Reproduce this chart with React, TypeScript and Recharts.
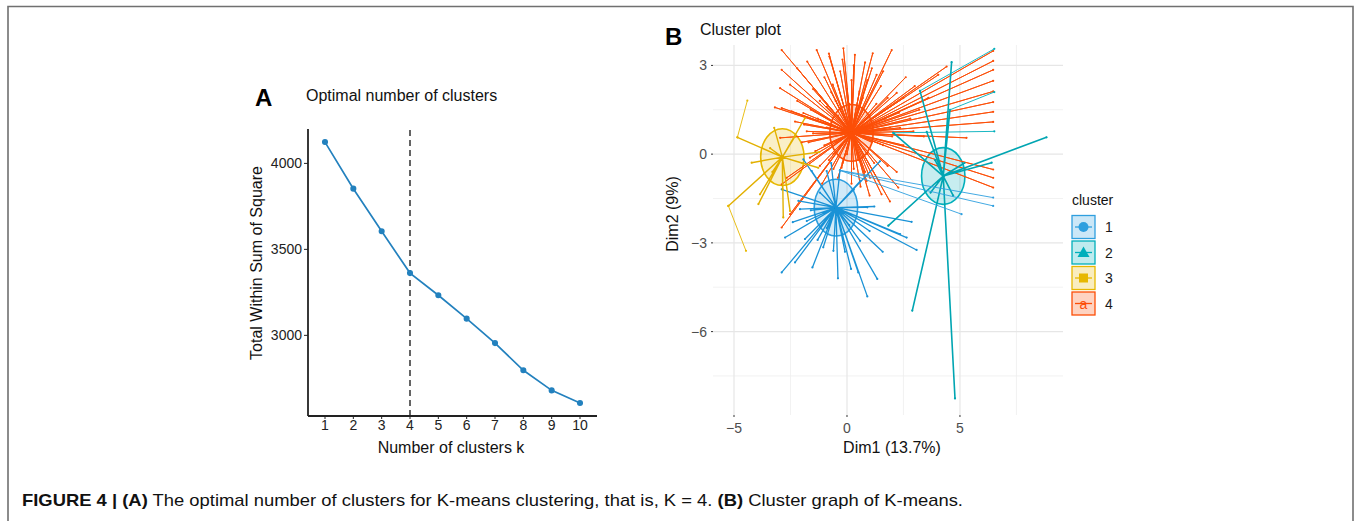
import { LineChart, Line, XAxis, YAxis, ReferenceLine, ScatterChart, Scatter } from 'recharts'

// ── Panel A: elbow curve ─────────────────────────────────────────────────────
const K_VALUES = [1, 2, 3, 4, 5, 6, 7, 8, 9, 10]
const WSS = [4124, 3853, 3605, 3362, 3233, 3097, 2955, 2797, 2680, 2607]
const OPTIMAL_K = 4
const WSS_TICKS = [3000, 3500, 4000]

// ── Panel B: cluster plot (Dim1 / Dim2) ──────────────────────────────────────
const CLUSTER_LABELS = ['1', '2', '3', '4']
const DIM1_TICKS = [-5, 0, 5]
const DIM2_TICKS = [-6, -3, 0, 3]
const DIM1_MINOR = [-2.5, 2.5, 7.5]
const DIM2_MINOR = [1.5, -1.5, -4.5, -7.5]

const CENTERS: [number, number][] = [
  [-0.49, -1.81], // 1
  [4.26, -0.74],  // 2
  [-2.86, -0.10], // 3
  [0.2, 0.72],    // 4
]
const ELLIPSE_R = 0.96

const POINTS_1: [number, number][] = [
  [0.90, -4.81], [1.34, -4.22], [1.58, -3.30], [0.18, -3.88], [-0.09, -3.30], [-0.60, -3.27],
  [-1.53, -3.83], [-1.86, -2.87], [-2.30, -3.66], [-2.89, -4.00], [-2.74, -2.82], [-2.89, -1.19],
  [-2.15, -1.58], [-1.93, -0.18], [-1.56, -0.57], [-0.90, -0.57], [-0.31, -0.55], [1.46, -0.24],
  [1.21, -1.77], [2.64, -2.82], [3.08, -3.24], [2.86, -2.29], [-2.08, -1.86], [-1.78, -2.26],
  [-1.05, -3.15], [0.58, -2.93], [2.35, -2.70], [0.30, -1.20], [-1.20, -1.30], [0.10, -2.40],
  [-0.90, -2.50], [0.90, -1.80], [-1.60, -1.90], [0.60, -0.90], [-0.40, -4.20], [0.50, -4.00],
  [-1.30, -2.90], [1.00, -2.60], [-2.40, -2.30], [-0.70, -0.30],
]
const POINTS_2: [number, number][] = [
  [4.78, -8.26], [4.63, 3.11], [8.83, 0.57], [6.40, -0.29], [2.89, -5.29], [1.83, -2.42],
  [2.05, 0.72], [3.23, 2.14], [3.53, 0.75], [4.56, 1.50], [3.90, -0.20], [4.70, -1.40],
  [3.70, -1.30], [5.20, -0.30],
]
const POINTS_3: [number, number][] = [
  [-5.25, -1.75], [-4.85, 0.57], [-3.22, 0.89], [-3.85, -1.36], [-3.92, -1.69], [-2.52, -1.92],
  [-4.22, -0.29], [-1.22, 0.07], [-1.27, -0.46], [-1.86, 1.22], [-2.82, -2.14], [-2.85, -1.19],
  [-2.30, 0.60], [-3.40, 0.20], [-2.00, -0.30], [-3.30, -0.60],
]
const POINTS_4: [number, number][] = [
  // long, upwards
  [-2.89, 3.52], [-1.76, 3.13], [-1.34, 3.52], [-0.78, 3.30], [-0.16, 3.58], [0.35, 3.36],
  [1.14, 3.41], [1.98, 3.52], [1.31, 2.68], [-2.89, 2.85], [-2.52, 2.35], [-2.89, 1.56],
  [-1.78, 0.77], [-1.93, 1.39], [-0.63, 2.35], [0.55, 2.12], [2.20, 2.07],
  // fanning right
  [6.47, 3.49], [6.47, 3.15], [6.47, 2.85], [6.47, 2.48], [6.47, 2.12], [6.47, 1.76],
  [6.47, 1.43], [6.47, 1.09], [6.47, -0.52], [6.47, -0.80], [6.47, -1.13], [5.29, 0.55],
  [4.04, 2.68], [4.41, 2.96], [2.35, 0.89], [2.94, 0.77], [3.60, 1.90], [3.00, 2.30],
  // downwards / left
  [1.53, -1.36], [0.87, -0.91], [2.27, -1.13], [1.02, -0.80], [-0.24, -0.46], [-2.89, -1.02],
  [-2.67, -0.80], [-1.64, -0.12], [-2.89, -2.48], [-2.52, -2.03], [-3.19, 1.58], [-2.96, 2.23],
  [-2.45, 1.45], [-2.96, 0.55],
  // dense core
  [-1.30, 1.20], [-1.00, 0.30], [-0.80, -0.20], [-0.50, 1.80], [0.00, 2.20], [0.50, 1.60],
  [1.00, 1.30], [1.50, 0.80], [1.60, 0.30], [1.20, -0.30], [0.80, -0.60], [0.30, -0.50],
  [-0.20, -0.30], [-0.60, 0.00], [-1.50, 0.70], [-1.60, 1.50], [0.90, 2.50], [-0.30, 2.80],
  [1.80, 1.90], [2.30, 1.40], [2.00, 0.60], [1.40, -0.90], [0.60, -1.10], [-0.40, -0.80],
  [-1.20, -0.40], [-2.00, 0.40], [-1.90, 1.00], [-1.00, 2.60], [0.30, 3.00], [1.10, 2.90],
  [-0.90, 1.60], [-0.40, 1.30], [0.10, 1.70], [0.70, 1.90], [1.30, 1.70], [1.70, 1.20],
  [1.90, 0.90], [1.10, 0.40], [0.90, 0.00], [0.50, -0.20], [0.00, 0.00], [-0.50, 0.40],
  [-0.90, 0.90], [-1.20, 1.80], [-0.70, 2.10], [0.20, 2.50], [1.50, 2.30], [2.50, 1.90],
  [2.80, 1.20], [2.50, 0.30], [1.80, -0.40], [1.00, -1.40], [0.20, -1.00], [-0.60, -0.50],
  [-1.40, 0.10], [-1.70, 0.40], [-2.30, 1.10], [-2.20, 1.80], [-1.50, 2.20], [-0.20, 3.20],
  [0.80, 3.10], [1.60, 2.80], [2.60, 2.60], [3.20, 1.50], [3.40, 0.60], [2.20, -0.60],
  [1.90, -1.60], [-0.80, 3.40], [-2.20, 2.90], [-1.10, -1.00],
]
// secondary segments [x1, y1, x2, y2]
const BRANCHES_1 = [[-0.31, -0.55, 6.47, -1.47], [-0.31, -0.55, 6.47, -1.75], [-0.31, -0.55, 5.07, -2.03]]
const BRANCHES_2 = [[3.23, 2.14, 6.52, 3.56], [4.56, 1.50, 6.52, 2.10], [2.05, 0.72, 6.52, 0.77]]
const BRANCHES_3 = [[-5.25, -1.75, -4.47, -3.27], [-4.85, 0.57, -4.41, 1.81]]
const BRANCHES_4: number[][] = []

const POINTS = [POINTS_1, POINTS_2, POINTS_3, POINTS_4]
const BRANCHES = [BRANCHES_1, BRANCHES_2, BRANCHES_3, BRANCHES_4]

const COLORS = ['#2E9FDF', '#00AFBB', '#E7B800', '#FC4E07']
const LINE_COLORS = ['#1a92d6', '#00A5B2', '#E2B000', '#FC4E07']
const LINE_W = [1.3, 1.6, 1.4, 0.95]
const DRAW_ORDER = [3, 0, 2, 1] // red underneath

const FONT = '"Liberation Sans", Arial, Helvetica, sans-serif'

// layout of panel B plot area
const B_W = 440, B_H = 450
const B_MARGIN = { top: 30, right: 17, left: 0, bottom: 30 }
const B_YAXIS_W = 73, B_XAXIS_H = 20
const DIM1_DOMAIN: [number, number] = [-5.93, 9.56]
const DIM2_DOMAIN: [number, number] = [-8.82, 3.69]
const PX_X = (B_W - B_MARGIN.left - B_MARGIN.right - B_YAXIS_W) / (DIM1_DOMAIN[1] - DIM1_DOMAIN[0])
const PX_Y = (B_H - B_MARGIN.top - B_MARGIN.bottom - B_XAXIS_H) / (DIM2_DOMAIN[1] - DIM2_DOMAIN[0])

const minus = (v: number) => String(v).replace('-', '\u2212')

const elbowData = K_VALUES.map((k, i) => ({ k, wss: WSS[i] }))

const starData = (c: [number, number], pts: [number, number][]) =>
  pts.flatMap(([x, y]) => [{ x: c[0], y: c[1] }, { x, y }]).concat([{ x: c[0], y: c[1] }])

const Dot = (color: string) => (p: any) =>
  p.cx == null ? <g /> : <circle cx={p.cx} cy={p.cy} r={1.1} fill={color} />

const Ellipse = (color: string) => (p: any) =>
  p.cx == null ? <g /> : (
    <ellipse cx={p.cx} cy={p.cy} rx={ELLIPSE_R * PX_X} ry={ELLIPSE_R * PX_Y}
      fill={color} fillOpacity={0.22} stroke={color} strokeWidth={1.6} />
  )

function ElbowPanel() {
  const ax = { stroke: '#222', strokeWidth: 1.8 }
  return (
    <div style={{ position: 'absolute', left: 200, top: 100 }}>
      <LineChart width={420} height={370} data={elbowData} margin={{ top: 29, right: 23, left: 0, bottom: 29 }}>
        <XAxis dataKey="k" type="number" domain={[0.4, 10.6]} ticks={K_VALUES} allowDataOverflow
          height={25} tickSize={3} tickMargin={1} axisLine={ax} tickLine={{ stroke: '#222' }}
          tick={{ fill: '#222', fontSize: 14 }} interval={0} />
        <YAxis type="number" domain={[2531, 4200]} ticks={WSS_TICKS} allowDataOverflow
          width={108} tickSize={4} tickMargin={2} axisLine={ax} tickLine={{ stroke: '#222' }}
          tick={{ fill: '#222', fontSize: 14 }} />
        <ReferenceLine x={OPTIMAL_K} stroke="#111" strokeWidth={1.3} strokeDasharray="6 4" />
        <Line dataKey="wss" stroke="#2381be" strokeWidth={1.7}
          dot={{ r: 2.2, fill: '#2381be', stroke: '#2381be' }} isAnimationActive={false} />
      </LineChart>
    </div>
  )
}

function ClusterPanel() {
  return (
    <div style={{ position: 'absolute', left: 640, top: 15 }}>
      <ScatterChart width={B_W} height={B_H} margin={B_MARGIN}>
        <XAxis type="number" dataKey="x" domain={DIM1_DOMAIN} ticks={DIM1_TICKS} allowDataOverflow
          height={B_XAXIS_H} axisLine={false} tickSize={2} tickMargin={6} tickLine={{ stroke: '#333' }}
          tick={{ fill: '#4d4d4d', fontSize: 14 }} tickFormatter={minus} />
        <YAxis type="number" dataKey="y" domain={DIM2_DOMAIN} ticks={DIM2_TICKS} allowDataOverflow
          width={B_YAXIS_W} axisLine={false} tickSize={2} tickMargin={4} tickLine={{ stroke: '#333' }}
          tick={{ fill: '#4d4d4d', fontSize: 14 }} tickFormatter={minus} />
        {DIM1_MINOR.map(v => <ReferenceLine key={`vx${v}`} x={v} stroke="#efefef" strokeWidth={0.8} />)}
        {DIM2_MINOR.map(v => <ReferenceLine key={`vy${v}`} y={v} stroke="#efefef" strokeWidth={0.8} />)}
        {DIM1_TICKS.map(v => <ReferenceLine key={`mx${v}`} x={v} stroke="#e6e6e6" strokeWidth={1.2} />)}
        {DIM2_TICKS.map(v => <ReferenceLine key={`my${v}`} y={v} stroke="#e6e6e6" strokeWidth={1.2} />)}
        {DRAW_ORDER.map(i => (
          <Scatter key={`el${i}`} data={[{ x: CENTERS[i][0], y: CENTERS[i][1] }]}
            shape={Ellipse(COLORS[i])} isAnimationActive={false} />
        ))}
        {DRAW_ORDER.map(i => (
          <Scatter key={`st${i}`} data={starData(CENTERS[i], POINTS[i])}
            line={{ stroke: LINE_COLORS[i], strokeWidth: LINE_W[i], strokeLinejoin: 'round' }} lineType="joint"
            shape={Dot(LINE_COLORS[i])} isAnimationActive={false} />
        ))}
        {DRAW_ORDER.flatMap(i => BRANCHES[i].map((b, j) => (
          <Scatter key={`br${i}-${j}`} data={[{ x: b[0], y: b[1] }, { x: b[2], y: b[3] }]}
            line={{ stroke: COLORS[i], strokeWidth: 0.9 }} lineType="joint"
            shape={Dot(COLORS[i])} isAnimationActive={false} />
        )))}
      </ScatterChart>
    </div>
  )
}

function LegendKey({ i, x, y }: { i: number, x: number, y: number }) {
  const c = COLORS[i]
  const mx = x + 11.5, my = y + 11.5
  return (
    <g>
      <rect x={x} y={y} width={23} height={23} fill={c} fillOpacity={0.25} stroke={c} strokeWidth={1.3} />
      <line x1={x + 3} x2={x + 20} y1={my} y2={my} stroke={c} strokeWidth={1.3} />
      {i === 0 && <circle cx={mx} cy={my} r={5} fill={c} />}
      {i === 1 && <polygon points={`${mx},${my - 6} ${mx + 6},${my + 4.5} ${mx - 6},${my + 4.5}`} fill={c} />}
      {i === 2 && <rect x={mx - 4.5} y={my - 4.5} width={9} height={9} fill={c} />}
      {i === 3 && <text x={mx} y={my + 5} textAnchor="middle" fontSize={14} fill={c}>a</text>}
      <text x={x + 33} y={my + 5} fontSize={14} fill="#1a1a1a">{CLUSTER_LABELS[i]}</text>
    </g>
  )
}

export default function App() {
  return (
    <div style={{ position: 'absolute', left: 0, top: 0, width: 1356, height: 521, background: '#fff', overflow: 'hidden', fontFamily: FONT }}>
      <ElbowPanel />
      <ClusterPanel />
      <svg width={1356} height={521} style={{ position: 'absolute', left: 0, top: 0, pointerEvents: 'none' }} fontFamily={FONT}>
        <path d="M8,521 V6.5 H1353 V521" fill="none" stroke="#707070" strokeWidth={1.6} />
        <text x={255} y={106} fontSize={24} fontWeight="bold" fill="#000">A</text>
        <text x={306} y={101} fontSize={16} fill="#111">Optimal number of clusters</text>
        <text transform="translate(262,263) rotate(-90)" textAnchor="middle" fontSize={16} fill="#111">Total Within Sum of Square</text>
        <text x={451} y={453} textAnchor="middle" fontSize={16} fill="#111">Number of clusters k</text>
        <text x={665} y={45} fontSize={24} fontWeight="bold" fill="#000">B</text>
        <text x={700} y={35} fontSize={16} fill="#111">Cluster plot</text>
        <text x={892} y={453} textAnchor="middle" fontSize={16} fill="#111">Dim1 (13.7%)</text>
        <text transform="translate(678,214) rotate(-90)" textAnchor="middle" fontSize={16} fill="#111">Dim2 (9%)</text>
        <text x={1072} y={205} fontSize={14} fill="#111">cluster</text>
        {CLUSTER_LABELS.map((_, i) => <LegendKey key={i} i={i} x={1072} y={215.5 + i * 25.5} />)}
        <text x={22} y={506} fontSize={17} fill="#111" textLength={941} lengthAdjust="spacingAndGlyphs">
          <tspan fontWeight="bold">FIGURE 4 | (A)</tspan> The optimal number of clusters for K-means clustering, that is, K = 4. <tspan fontWeight="bold">(B)</tspan> Cluster graph of K-means.
        </text>
      </svg>
    </div>
  )
}
